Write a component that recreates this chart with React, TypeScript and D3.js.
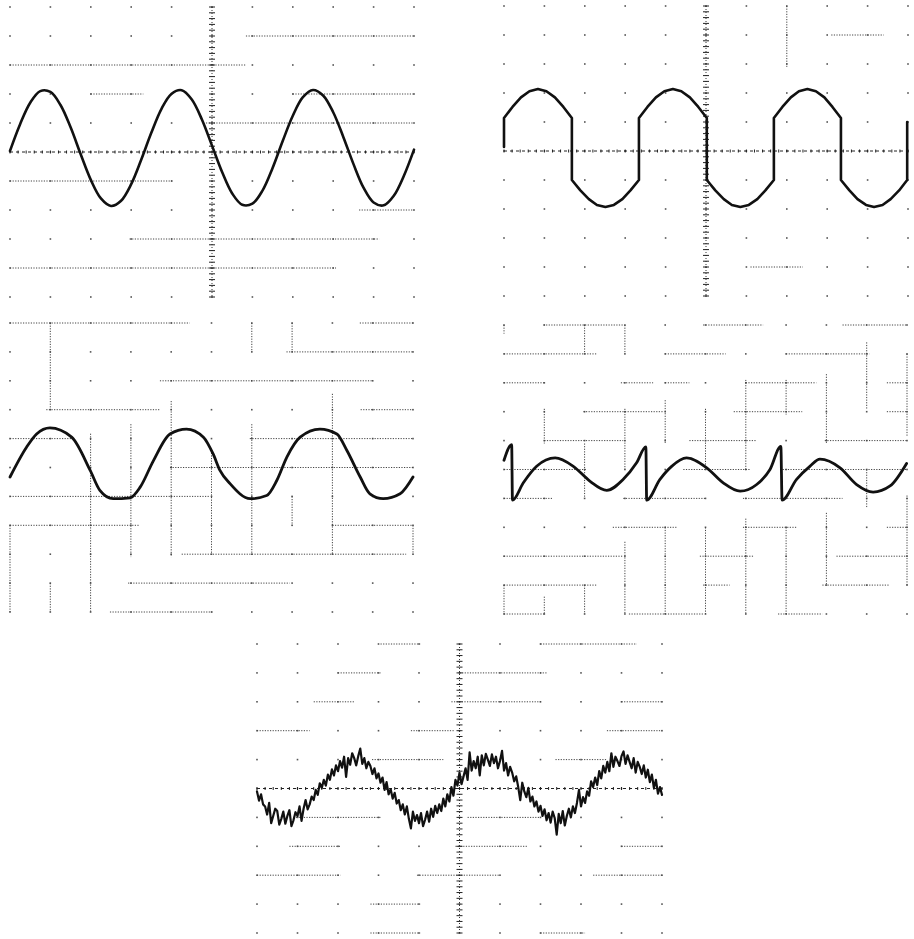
import React from 'react';
import * as d3 from 'd3';

type Pt = [number, number];
type Seg = [number, number, number];

// ---- Traces (x in screen divisions 0..10, y in divisions, 0 = centre, + up) ----
const SINE_STEP = 0.25;
const sineY = [
  0.04, 0.96, 1.70, 2.10, 2.07, 1.62, 0.85, -0.08, -0.96, -1.60, -1.86, -1.68, -1.11, -0.26,
  0.67, 1.49, 2.01, 2.13, 1.81, 1.12, 0.22, -0.69, -1.43, -1.82, -1.78, -1.33, -0.55, 0.38,
  1.25, 1.89, 2.14, 1.95, 1.37, 0.52, -0.41, -1.23, -1.74, -1.84, -1.51, -0.82, 0.08,
];

const clippedPts: Pt[] = [
  [0, 0.14], [0, 1.14], [0.21, 1.52], [0.42, 1.85], [0.63, 2.06], [0.84, 2.14], [1.05, 2.06], [1.26, 1.85], [1.47, 1.52], [1.68, 1.14],
  [1.68, -1.0], [1.89, -1.36], [2.10, -1.66], [2.30, -1.86], [2.51, -1.93], [2.72, -1.86], [2.93, -1.66], [3.13, -1.36], [3.34, -1.0],
  [3.34, 1.14], [3.55, 1.52], [3.76, 1.85], [3.97, 2.06], [4.18, 2.14], [4.39, 2.06], [4.60, 1.85], [4.81, 1.52], [5.02, 1.14],
  [5.02, -1.0], [5.23, -1.36], [5.44, -1.66], [5.64, -1.86], [5.85, -1.93], [6.06, -1.86], [6.27, -1.66], [6.47, -1.36], [6.68, -1.0],
  [6.68, 1.14], [6.89, 1.52], [7.10, 1.85], [7.30, 2.06], [7.51, 2.14], [7.72, 2.06], [7.93, 1.85], [8.13, 1.52], [8.34, 1.14],
  [8.34, -1.0], [8.55, -1.36], [8.75, -1.66], [8.96, -1.86], [9.16, -1.93], [9.37, -1.86], [9.57, -1.66], [9.78, -1.36], [9.98, -1.0],
  [9.98, 1.0],
];

const distortedPts: Pt[] = [
  [0, -0.33], [0.41, 0.70], [0.66, 1.16], [0.99, 1.37], [1.53, 1.05], [1.99, -0.10], [2.23, -0.79], [2.56, -1.08], [2.98, -1.05],
  [3.23, -0.68], [3.56, 0.24], [3.97, 1.16], [4.38, 1.33], [4.80, 1.05], [5.04, 0.47], [5.21, -0.10], [5.46, -0.56], [5.96, -1.08],
  [6.37, -0.97], [6.62, -0.45], [6.87, 0.36], [7.20, 1.05], [7.69, 1.33], [8.11, 1.16], [8.36, 0.59], [8.69, -0.33], [8.93, -0.91],
  [9.26, -1.08], [9.68, -0.91], [10, -0.33],
];

const sawPts: Pt[] = [
  [0, 0.32], [0.19, 0.86], [0.21, -1.06], [0.48, -0.46], [0.81, 0.11], [1.27, 0.40], [1.72, 0.11], [2.13, -0.40], [2.55, -0.72],
  [2.96, -0.34], [3.29, 0.23], [3.52, 0.78], [3.54, -1.06], [3.87, -0.34], [4.16, 0.11], [4.53, 0.40], [5.03, 0.06], [5.44, -0.46],
  [5.86, -0.75], [6.27, -0.52], [6.60, 0.0], [6.87, 0.80], [6.90, -1.06], [7.26, -0.34], [7.59, 0.11], [7.84, 0.36], [8.34, 0.06],
  [8.75, -0.52], [9.16, -0.78], [9.58, -0.57], [9.99, 0.21],
];

const NOISY_STEP = 0.05;
const noisyY = [
  -0.10, -0.42, -0.20, -0.55, -0.62, -0.90, -0.50, -1.20, -0.95, -0.70,
  -0.78, -1.25, -1.05, -0.80, -1.22, -0.95, -0.75, -1.30, -1.10, -0.82,
  -0.95, -0.62, -1.12, -0.70, -0.40, -0.72, -0.55, -0.28, -0.40, -0.05,
  -0.22, 0.18, 0.02, 0.30, 0.10, 0.48, 0.30, 0.66, 0.45, 0.80,
  0.60, 0.95, 0.72, 1.10, 0.40, 1.05, 0.82, 1.22, 1.05, 0.80,
  1.12, 1.38, 0.85, 1.05, 0.70, 0.92, 0.78, 0.50, 0.70, 0.35,
  0.52, 0.20, 0.38, -0.05, 0.22, -0.20, -0.02, -0.35, -0.15, -0.52,
  -0.40, -0.75, -0.55, -0.90, -0.62, -1.05, -1.38, -0.80, -1.12, -0.92,
  -1.20, -0.85, -1.30, -1.08, -0.80, -1.15, -0.70, -0.98, -0.60, -0.85,
  -0.55, -0.78, -0.35, -0.62, -0.20, -0.45, 0.05, -0.25, 0.30, 0.10,
  0.55, 0.15, 0.42, 0.70, 0.30, 1.25, 0.62, 0.95, 0.70, 1.10,
  0.45, 1.15, 0.80, 1.20, 1.00, 0.78, 1.18, 0.88, 1.10, 0.70,
  0.95, 1.30, 0.62, 0.88, 0.45, 0.75, 0.55, 0.25, 0.42, 0.05,
  -0.40, 0.20, -0.10, -0.30, 0.02, -0.45, -0.28, -0.62, -0.45, -0.80,
  -0.60, -0.95, -0.72, -1.10, -0.85, -1.18, -0.80, -1.02, -1.60, -0.88,
  -1.20, -0.78, -1.28, -0.95, -0.70, -1.00, -0.62, -0.85, -0.50, -0.05,
  -0.62, -0.30, -0.50, -0.10, -0.25, 0.25, 0.05, 0.38, 0.12, 0.60,
  0.35, 0.78, 0.55, 0.92, 0.60, 1.22, 0.75, 1.10, 0.95, 0.78,
  1.12, 1.28, 0.85, 1.15, 0.92, 0.70, 1.05, 0.55, 0.92, 0.75,
  0.50, 0.80, 0.38, 0.65, 0.22, 0.48, 0.02, 0.30, -0.18, 0.05,
  -0.22,
];

// ---- Graticule fragments: horizontal [row from top, x from, x to], vertical [column, row from, row to] ----
const gridDivs = [0, 1, 2, 3, 4, 5, 6, 7, 8, 9, 10];

const p1H: Seg[] = [[1, 5.84, 10], [2, 0, 5.84], [3, 2.0, 3.3], [3, 7.0, 10], [4, 4.85, 10], [6, 0, 4.03], [7, 8.64, 10], [8, 2.96, 9.14], [9, 0, 8.07]];
const p1V: Seg[] = [];
const p2H: Seg[] = [[1, 8.1, 9.4], [9, 6.1, 7.4]];
const p2V: Seg[] = [[7, 0, 2.1]];
const p3H: Seg[] = [
  [0, 0, 4.46], [0, 8.68, 10], [1, 6.86, 10], [2, 3.72, 9.0], [3, 0.9, 3.72], [3, 8.7, 10], [4, 0, 1.53], [4, 5.95, 10],
  [5, 3.97, 10], [6, 0, 4.96], [7, 0, 3.22], [7, 8.0, 10], [8, 4.26, 9.83], [9, 2.93, 6.94], [10, 2.48, 5.04],
];
const p3V: Seg[] = [
  [1, 0, 3], [1, 9, 10], [2, 3.83, 10], [3, 3.5, 8.1], [4, 2.7, 8.1], [5, 4.4, 8], [6, 0, 1], [6, 3.5, 8], [7, 0, 1], [7, 6, 7],
  [8, 2.45, 8], [10, 7, 8], [0, 7, 10],
];
const p4H: Seg[] = [
  [0, 0.98, 2.96], [0, 4.94, 6.43], [0, 8.4, 10], [1, 0, 2.3], [1, 4, 5.5], [1, 7, 9.07], [2, 0, 1], [2, 2.9, 3.7], [2, 4, 4.6],
  [2, 6, 7.75], [2, 9.5, 10], [3, 1.97, 3.95], [3, 5.7, 7.4], [3, 9.5, 10], [4, 1, 2.96], [4, 4.6, 6.26], [4, 7.96, 10],
  [5, 0, 2.05], [5, 4.45, 6.1], [5, 6.85, 10], [6, 0, 1.2], [6, 2.96, 5], [6, 5.93, 8.4], [7, 2.7, 4.28], [7, 5.93, 7.25],
  [7, 9.5, 10], [8, 0, 2.96], [8, 4.86, 6.18], [8, 8.25, 10], [9, 0, 2.3], [9, 4.94, 5.6], [9, 7.9, 9.57], [10, 0, 1],
  [10, 3.1, 4.94], [10, 6.8, 7.9],
];
const p4V: Seg[] = [
  [0, 0, 0.3], [0, 9, 10], [1, 2.9, 4.1], [1, 9.4, 10], [2, 0, 1], [2, 4.1, 6], [2, 9, 10], [3, 0, 1], [3, 2.9, 5], [3, 7.5, 10],
  [4, 2.6, 4.1], [4, 7, 10], [5, 2.9, 5], [5, 7, 10], [6, 1.9, 5], [6, 6.7, 10], [7, 1.9, 3.1], [7, 7, 10], [8, 1.7, 4.1],
  [8, 6.5, 9], [9, 0.6, 2.9], [9, 5, 6.3], [10, 1, 3.85], [10, 5.9, 9],
];
const p5H: Seg[] = [
  [0, 3.05, 4.03], [0, 7, 9.38], [1, 2, 3.05], [1, 5, 7.16], [2, 1.4, 2.4], [2, 4.8, 7], [2, 9, 10], [3, 0, 1.3], [3, 3.8, 4.86],
  [3, 8.64, 10], [4, 2.84, 4.6], [4, 7.37, 8.64], [6, 0.9, 3.05], [6, 5.2, 7], [7, 0.8, 2.06], [7, 4.9, 6.67], [7, 9, 10],
  [8, 0, 2.06], [8, 3.95, 6.0], [8, 8.3, 10], [9, 2.8, 4.03], [10, 2.8, 4.03], [10, 7, 8.1],
];
const p5V: Seg[] = [];

type Frame = { x0: number; x1: number; y0: number; y1: number };

function Panel(props: {
  frame: Frame;
  hSegs: Seg[];
  vSegs: Seg[];
  axes: boolean;
  points: Pt[];
  curve: d3.CurveFactory;
  width: number;
}) {
  const { frame, hSegs, vSegs, axes, points, curve, width } = props;
  const x = d3.scaleLinear().domain([0, 10]).range([frame.x0, frame.x1]);
  const y = d3.scaleLinear().domain([-5, 5]).range([frame.y1, frame.y0]);
  const row = (r: number) => y(5 - r);
  const line = d3
    .line<Pt>()
    .x((d) => x(d[0]))
    .y((d) => y(d[1]))
    .curve(curve);
  const minor = d3.range(0, 10.001, 0.2);
  return (
    <g>
      {gridDivs.map((gx) =>
        gridDivs.map((gy) => (
          <rect key={`d${gx}-${gy}`} x={x(gx) - 0.8} y={row(gy) - 0.8} width={1.6} height={1.6} fill="#555" />
        ))
      )}
      {hSegs.map((s, i) => (
        <line key={`h${i}`} x1={x(s[1])} x2={x(s[2])} y1={row(s[0])} y2={row(s[0])} stroke="#444" strokeWidth={1} strokeDasharray="1.2 1.4" />
      ))}
      {vSegs.map((s, i) => (
        <line key={`v${i}`} x1={x(s[0])} x2={x(s[0])} y1={row(s[1])} y2={row(s[2])} stroke="#444" strokeWidth={1} strokeDasharray="1.2 1.4" />
      ))}
      {axes && (
        <g>
          <line x1={x(0)} x2={x(10)} y1={y(0)} y2={y(0)} stroke="#222" strokeWidth={1} strokeDasharray="3 3" />
          {minor.map((m, i) => (
            <line key={`ht${i}`} x1={x(m)} x2={x(m)} y1={y(0) - 1.5} y2={y(0) + 1.5} stroke="#222" strokeWidth={1} />
          ))}
          <line x1={x(5)} x2={x(5)} y1={y(5)} y2={y(-5)} stroke="#333" strokeWidth={1} strokeDasharray="1 2" />
          {minor.map((m, i) => (
            <line key={`vt${i}`} x1={x(5) - 3} x2={x(5) + 3} y1={row(m)} y2={row(m)} stroke="#222" strokeWidth={1} />
          ))}
        </g>
      )}
      <path d={line(points) || ''} fill="none" stroke="#111" strokeWidth={width} strokeLinejoin="round" strokeLinecap="round" />
    </g>
  );
}

export default function App() {
  const sinePts: Pt[] = sineY.map((v, i) => [i * SINE_STEP, v]);
  const noisyPts: Pt[] = noisyY.map((v, i) => [i * NOISY_STEP, v]);
  return (
    <svg width={914} height={939} style={{ position: 'absolute', left: 0, top: 0, background: '#fff' }}>
      <rect x={0} y={0} width={914} height={939} fill="#fff" />
      <Panel frame={{ x0: 10, x1: 414, y0: 7, y1: 297 }} hSegs={p1H} vSegs={p1V} axes points={sinePts} curve={d3.curveCatmullRom} width={2.6} />
      <Panel frame={{ x0: 504, x1: 908, y0: 6, y1: 296 }} hSegs={p2H} vSegs={p2V} axes points={clippedPts} curve={d3.curveLinear} width={2.6} />
      <Panel frame={{ x0: 10, x1: 413, y0: 323, y1: 612 }} hSegs={p3H} vSegs={p3V} axes={false} points={distortedPts} curve={d3.curveMonotoneX} width={2.8} />
      <Panel frame={{ x0: 504, x1: 907, y0: 325, y1: 614 }} hSegs={p4H} vSegs={p4V} axes={false} points={sawPts} curve={d3.curveMonotoneX} width={2.8} />
      <Panel frame={{ x0: 257, x1: 662, y0: 644, y1: 933 }} hSegs={p5H} vSegs={p5V} axes points={noisyPts} curve={d3.curveLinear} width={2.2} />
    </svg>
  );
}
